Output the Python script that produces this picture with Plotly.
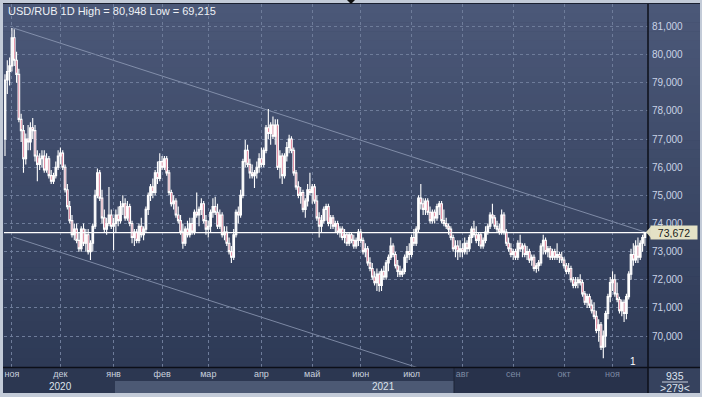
import pandas as pd
import plotly.graph_objects as go

# ---------------- data ----------------
dates = [d.strftime("%Y-%m-%d") for d in pd.bdate_range("2020-10-28", "2021-11-19")]

open_ = [
    77.0, 79.1, 79.4, 79.6, 80.6, 79.8, 79.3, 77.7, 77.3, 76.3,
    77.0, 76.9, 77.4, 77.3, 76.4, 76.1, 76.3, 76.4, 75.9, 76.3,
    75.7, 75.5, 75.7, 76.0, 76.4, 76.5, 76.0, 75.2, 74.6, 74.1,
    73.6, 73.8, 73.4, 73.1, 73.8, 73.3, 73.6, 73.0, 73.3, 73.9,
    75.0, 75.8, 74.9, 74.2, 73.8, 74.0, 74.3, 73.9, 74.0, 74.3,
    74.1, 74.6, 74.7, 74.2, 74.6, 74.0, 73.5, 73.7, 73.4, 73.9,
    73.6, 73.8, 74.5, 75.0, 75.3, 75.1, 75.8, 75.6, 76.2, 76.0,
    76.3, 75.8, 75.1, 74.7, 74.8, 74.3, 74.1, 73.7, 73.3, 73.8,
    73.6, 74.0, 73.7, 74.4, 74.3, 74.5, 74.7, 74.1, 73.8, 73.9,
    74.4, 74.6, 74.4, 73.9, 74.3, 73.6, 73.7, 73.3, 73.0, 72.8,
    73.6, 74.4, 74.3, 75.0, 76.2, 76.6, 76.1, 75.8, 75.7, 75.8,
    76.0, 76.3, 76.1, 76.6, 77.4, 77.2, 77.5, 77.1, 77.5, 76.0,
    76.4, 75.7, 76.4, 76.7, 77.0, 76.6, 75.8, 75.3, 75.0, 75.1,
    74.5, 74.8, 75.2, 75.1, 75.3, 74.8, 74.2, 73.9, 74.1, 74.5,
    74.6, 74.0, 74.2, 73.9, 74.0, 73.7, 73.8, 73.5, 73.6, 73.3,
    73.6, 73.4, 73.2, 73.4, 73.7, 73.4, 73.0, 73.1, 72.6, 72.4,
    72.1, 71.9, 72.2, 71.8, 72.3, 72.1, 72.6, 72.8, 73.2, 72.9,
    72.5, 72.3, 72.2, 72.3, 72.8, 73.0, 72.9, 73.5, 73.3, 73.8,
    74.9, 74.7, 74.5, 74.8, 74.4, 74.1, 74.4, 74.2, 74.6, 74.7,
    74.1, 74.0, 73.9, 73.8, 73.5, 73.1, 73.2, 73.0, 73.1, 73.0,
    73.3, 73.1, 73.5, 73.8, 73.6, 73.4, 73.6, 73.2, 73.4, 73.7,
    73.9, 74.3, 74.2, 73.9, 73.8, 73.7, 74.3, 73.7, 73.3, 73.1,
    72.9, 73.0, 72.8, 73.3, 73.1, 73.2, 72.9, 73.0, 72.7, 72.8,
    72.4, 72.5, 72.6, 73.2, 73.4, 73.0, 73.1, 72.8, 73.0, 72.8,
    72.9, 72.8, 72.7, 72.5, 72.3, 72.4, 72.0, 71.8, 71.9, 72.0,
    71.9, 71.5, 71.2, 71.4, 71.1, 70.9, 70.7, 70.2, 70.4, 69.6,
    70.0, 70.8, 71.4, 71.9, 72.0, 71.5, 71.3, 70.9, 71.2, 70.8,
    71.4, 72.2, 72.9, 72.7, 73.2, 72.8, 73.3, 73.5,
]

high = [
    79.3, 79.8, 79.9, 80.948, 80.9, 80.1, 79.5, 77.9, 77.5, 77.2,
    77.5, 77.6, 77.75, 77.5, 76.6, 76.5, 76.6, 76.6, 76.5, 76.4,
    75.9, 75.8, 76.2, 76.6, 76.7, 76.6, 76.1, 75.4, 74.8, 74.3,
    74.0, 74.0, 73.7, 73.9, 74.0, 73.8, 73.8, 73.4, 74.0, 75.2,
    75.95, 75.9, 75.2, 74.5, 74.2, 75.3, 74.5, 74.2, 74.5, 74.6,
    74.8, 75.0, 74.9, 74.8, 74.7, 74.1, 73.8, 73.8, 74.0, 74.2,
    73.9, 74.6, 75.1, 75.4, 75.6, 75.9, 76.2, 76.5, 76.4, 76.4,
    76.4, 75.9, 75.2, 75.0, 74.9, 74.6, 74.3, 74.0, 73.9, 74.1,
    74.2, 74.2, 74.5, 75.1, 74.6, 74.9, 74.8, 74.3, 74.1, 74.5,
    74.9, 74.95, 74.7, 74.5, 74.4, 73.9, 73.9, 73.5, 73.2, 73.8,
    74.5, 74.6, 75.2, 76.3, 76.97, 76.8, 76.3, 76.1, 75.9, 76.2,
    76.5, 76.7, 76.7, 77.5, 78.07, 77.6, 77.8, 77.7, 77.7, 76.6,
    76.5, 76.5, 76.9, 77.15, 77.1, 76.7, 75.9, 75.5, 75.3, 75.2,
    74.9, 75.4, 75.8, 75.4, 75.4, 75.0, 74.4, 74.3, 74.6, 74.7,
    74.7, 74.3, 74.3, 74.1, 74.1, 73.9, 73.9, 73.8, 73.7, 73.7,
    73.7, 73.6, 73.5, 73.8, 73.8, 73.5, 73.3, 73.2, 72.8, 72.6,
    72.3, 72.4, 72.3, 72.4, 72.5, 72.7, 72.9, 73.5, 73.3, 73.0,
    72.7, 72.5, 72.4, 72.9, 73.2, 73.3, 73.6, 73.8, 73.9, 75.0,
    75.4, 74.9, 74.9, 74.9, 74.6, 74.5, 74.5, 74.7, 74.8, 74.8,
    74.5, 74.2, 74.0, 73.9, 73.6, 73.4, 73.4, 73.4, 73.3, 73.5,
    73.4, 73.6, 73.9, 74.1, 73.9, 73.7, 73.7, 73.5, 73.9, 74.0,
    74.4, 74.7, 74.3, 74.1, 74.0, 74.5, 74.4, 73.8, 73.5, 73.3,
    73.1, 73.1, 73.4, 73.6, 73.3, 73.3, 73.2, 73.1, 72.9, 72.9,
    72.6, 72.7, 73.3, 73.6, 73.5, 73.2, 73.2, 73.1, 73.1, 73.3,
    73.0, 73.0, 72.8, 72.6, 72.6, 72.5, 72.1, 72.1, 72.1, 72.2,
    72.0, 71.6, 71.5, 71.5, 71.3, 71.2, 70.9, 70.6, 70.5, 70.2,
    70.9, 71.5, 72.1, 72.3, 72.2, 71.9, 71.4, 71.3, 71.3, 71.5,
    72.3, 73.1, 73.3, 73.4, 73.5, 73.4, 73.6, 73.7,
]

low = [
    76.4, 78.6, 78.9, 79.4, 79.6, 79.0, 77.6, 76.9, 75.8, 76.1,
    76.6, 76.6, 77.0, 76.2, 75.5, 75.9, 76.0, 75.8, 75.8, 75.6,
    75.4, 75.4, 75.6, 75.9, 76.1, 75.9, 75.1, 74.5, 74.0, 73.5,
    73.4, 73.3, 73.0, 73.0, 73.2, 73.0, 72.9, 72.7, 73.0, 73.8,
    74.9, 74.8, 74.0, 73.7, 73.6, 73.9, 73.8, 73.05, 73.7, 73.9,
    74.0, 74.3, 74.1, 74.1, 73.9, 73.3, 73.2, 73.3, 73.3, 73.5,
    73.4, 73.7, 74.3, 74.8, 74.9, 75.0, 75.4, 75.5, 75.9, 75.9,
    75.7, 75.0, 74.6, 74.5, 74.2, 74.0, 73.6, 73.1, 73.2, 73.5,
    73.5, 73.6, 73.6, 74.2, 73.9, 74.3, 74.0, 73.6, 73.5, 73.7,
    74.2, 74.3, 73.8, 73.8, 73.5, 73.4, 73.2, 72.9, 72.6, 72.7,
    73.5, 74.0, 74.2, 74.9, 76.0, 76.0, 75.6, 75.6, 75.26, 75.6,
    75.8, 76.0, 76.0, 76.5, 77.0, 76.8, 77.0, 76.8, 75.9, 75.6,
    75.4, 75.6, 76.2, 76.5, 76.5, 75.7, 75.2, 74.9, 74.7, 74.4,
    74.2, 74.6, 75.0, 74.7, 74.7, 74.1, 73.5, 73.7, 74.0, 74.1,
    73.9, 73.8, 73.8, 73.7, 73.6, 73.5, 73.4, 73.3, 73.2, 73.2,
    73.3, 73.1, 73.1, 73.2, 73.3, 72.9, 72.8, 72.5, 72.3, 72.0,
    71.8, 71.6, 71.57, 71.6, 72.0, 72.0, 72.3, 72.7, 72.8, 72.4,
    72.1, 72.1, 72.1, 72.2, 72.6, 72.7, 72.8, 73.2, 73.2, 73.7,
    74.5, 74.3, 74.3, 74.3, 74.0, 74.0, 74.0, 74.1, 74.3, 74.0,
    73.9, 73.8, 73.6, 73.4, 73.0, 72.8, 72.7, 72.8, 72.8, 72.9,
    72.9, 73.0, 73.3, 73.5, 73.3, 73.2, 73.1, 73.1, 73.3, 73.6,
    73.8, 74.0, 73.8, 73.7, 73.6, 73.6, 73.6, 73.2, 73.0, 72.8,
    72.7, 72.7, 72.7, 73.0, 72.8, 72.8, 72.7, 72.6, 72.5, 72.3,
    72.25, 72.3, 72.5, 72.9, 72.9, 72.8, 72.7, 72.7, 72.7, 72.7,
    72.6, 72.6, 72.4, 72.2, 72.2, 71.9, 71.7, 71.7, 71.7, 71.8,
    71.4, 71.1, 71.0, 71.0, 70.8, 70.6, 70.1, 69.8, 69.5, 69.215,
    69.6, 70.6, 71.2, 71.6, 71.4, 71.2, 70.8, 70.7, 70.5, 70.6,
    71.3, 72.0, 72.5, 72.6, 72.6, 72.7, 73.0, 73.2,
]

close = [
    79.1, 79.4, 79.6, 80.6, 79.8, 79.3, 77.7, 77.3, 76.3, 77.0,
    76.9, 77.4, 77.3, 76.4, 76.1, 76.3, 76.4, 75.9, 76.3, 75.7,
    75.5, 75.7, 76.0, 76.4, 76.5, 76.0, 75.2, 74.6, 74.1, 73.6,
    73.8, 73.4, 73.1, 73.8, 73.3, 73.6, 73.0, 73.3, 73.9, 75.0,
    75.8, 74.9, 74.2, 73.8, 74.0, 74.3, 73.9, 74.0, 74.3, 74.1,
    74.6, 74.7, 74.2, 74.6, 74.0, 73.5, 73.7, 73.4, 73.9, 73.6,
    73.8, 74.5, 75.0, 75.3, 75.1, 75.8, 75.6, 76.2, 76.0, 76.3,
    75.8, 75.1, 74.7, 74.8, 74.3, 74.1, 73.7, 73.3, 73.8, 73.6,
    74.0, 73.7, 74.4, 74.3, 74.5, 74.7, 74.1, 73.8, 73.9, 74.4,
    74.6, 74.4, 73.9, 74.3, 73.6, 73.7, 73.3, 73.0, 72.8, 73.6,
    74.4, 74.3, 75.0, 76.2, 76.6, 76.1, 75.8, 75.7, 75.8, 76.0,
    76.3, 76.1, 76.6, 77.4, 77.2, 77.5, 77.1, 77.5, 76.0, 76.4,
    75.7, 76.4, 76.7, 77.0, 76.6, 75.8, 75.3, 75.0, 75.1, 74.5,
    74.8, 75.2, 75.1, 75.3, 74.8, 74.2, 73.9, 74.1, 74.5, 74.6,
    74.0, 74.2, 73.9, 74.0, 73.7, 73.8, 73.5, 73.6, 73.3, 73.6,
    73.4, 73.2, 73.4, 73.7, 73.4, 73.0, 73.1, 72.6, 72.4, 72.1,
    71.9, 72.2, 71.8, 72.3, 72.1, 72.6, 72.8, 73.2, 72.9, 72.5,
    72.3, 72.2, 72.3, 72.8, 73.0, 72.9, 73.5, 73.3, 73.8, 74.9,
    74.7, 74.5, 74.8, 74.4, 74.1, 74.4, 74.2, 74.6, 74.7, 74.1,
    74.0, 73.9, 73.8, 73.5, 73.1, 73.2, 73.0, 73.1, 73.0, 73.3,
    73.1, 73.5, 73.8, 73.6, 73.4, 73.6, 73.2, 73.4, 73.7, 73.9,
    74.3, 74.2, 73.9, 73.8, 73.7, 74.3, 73.7, 73.3, 73.1, 72.9,
    73.0, 72.8, 73.3, 73.1, 73.2, 72.9, 73.0, 72.7, 72.8, 72.4,
    72.5, 72.6, 73.2, 73.4, 73.0, 73.1, 72.8, 73.0, 72.8, 72.9,
    72.8, 72.7, 72.5, 72.3, 72.4, 72.0, 71.8, 71.9, 72.0, 71.9,
    71.5, 71.2, 71.4, 71.1, 70.9, 70.7, 70.2, 70.4, 69.6, 70.0,
    70.8, 71.4, 71.9, 72.0, 71.5, 71.3, 70.9, 71.2, 70.8, 71.4,
    72.2, 72.9, 72.7, 73.2, 72.8, 73.3, 73.5, 73.672,
]

n = min(len(dates), len(open_), len(high), len(low), len(close))
dates, open_, high, low, close = dates[:n], open_[:n], high[:n], low[:n], close[:n]

month_names = ["ноя", "дек", "янв", "фев", "мар", "апр", "май", "июн", "июл", "авг", "сен", "окт", "ноя"]
y_ticks = [70, 71, 72, 73, 74, 75, 76, 77, 78, 79, 80, 81]
y_labels = ["70,000", "71,000", "72,000", "73,000", "74,000", "75,000",
            "76,000", "77,000", "78,000", "79,000", "80,000", "81,000"]
last_price = 73.672
last_label = "73,672"
title_text = "USD/RUB 1D High = 80,948 Low = 69,215"
year_labels = ["2020", "2021"]

# trend channel (category index, value)
channel_idx = [3.5, 278.4]
channel_upper = [80.95, 73.66]
channel_lower = [73.52, 66.23]

# ---------------- geometry helpers ----------------
W, H = 702, 397
ML, MR, MT, MB = 4, 54, 4, 30
PW, PH = W - ML - MR, H - MT - MB


def PX(p):
    return (p - ML) / PW


def PY(p):
    return (H - MB - p) / PH


# first trading day of each month, starting with November 2020
tickvals = []
seen = set()
for d in dates:
    key = d[:7]
    if key < "2020-11":
        continue
    if key not in seen:
        seen.add(key)
        tickvals.append(d)
tickvals = tickvals[:len(month_names)]
ticktext = []
for i, m in enumerate(month_names[:len(tickvals)]):
    if i >= 9:
        ticktext.append("<span style='color:#7d8aa3'>%s</span>" % m)
    else:
        ticktext.append(m)

fig = go.Figure()

fig.add_trace(go.Candlestick(
    x=dates, open=open_, high=high, low=low, close=close,
    increasing=dict(line=dict(color="#ffffff", width=1.1), fillcolor="#ffffff"),
    decreasing=dict(line=dict(color="#ffffff", width=1.1), fillcolor="#cc3158"),
    whiskerwidth=0, showlegend=False, hoverinfo="skip",
))

shapes = []
# gradient background (plot + right axis panel)
top_c = (0x4b, 0x58, 0x78)
bot_c = (0x2e, 0x3a, 0x56)
nb = 40
for k in range(nb):
    t = k / (nb - 1)
    c = tuple(int(round(top_c[j] + (bot_c[j] - top_c[j]) * t)) for j in range(3))
    y0 = MT + PH * k / nb
    y1 = MT + PH * (k + 1) / nb + 0.6
    shapes.append(dict(type="rect", xref="paper", yref="paper",
                       x0=PX(0), x1=PX(W), y0=PY(y1), y1=PY(y0),
                       fillcolor="rgb(%d,%d,%d)" % c, line=dict(width=0), layer="below"))
# bottom axis panel
shapes.append(dict(type="rect", xref="paper", yref="paper", x0=PX(0), x1=PX(648), y0=PY(393), y1=PY(367),
                   fillcolor="#2c3751", line=dict(width=0), layer="below"))
shapes.append(dict(type="rect", xref="paper", yref="paper", x0=PX(454), x1=PX(648), y0=PY(393), y1=PY(368),
                   fillcolor="#28324b", line=dict(width=0), layer="below"))
shapes.append(dict(type="rect", xref="paper", yref="paper", x0=PX(115), x1=PX(454), y0=PY(393), y1=PY(381),
                   fillcolor="#4c5974", line=dict(width=0), layer="below"))
shapes.append(dict(type="line", xref="paper", yref="paper", x0=PX(454), x1=PX(454), y0=PY(393), y1=PY(368),
                   line=dict(color="#1c2436", width=1), layer="below"))
# bottom-right box
shapes.append(dict(type="rect", xref="paper", yref="paper", x0=PX(648), x1=PX(W), y0=PY(393), y1=PY(367),
                   fillcolor="#36425e", line=dict(width=0), layer="below"))
shapes.append(dict(type="line", xref="paper", yref="paper", x0=PX(662), x1=PX(688), y0=PY(382), y1=PY(382),
                   line=dict(color="#c8d0de", width=1), layer="above"))
# frame lines
shapes.append(dict(type="line", xref="paper", yref="paper", x0=PX(0), x1=PX(W), y0=PY(367.5), y1=PY(367.5),
                   line=dict(color="#0c0f18", width=1.5), layer="above"))
shapes.append(dict(type="line", xref="paper", yref="paper", x0=PX(648), x1=PX(648), y0=PY(393), y1=PY(3),
                   line=dict(color="#0c0f18", width=1.5), layer="above"))
# outer light border
for (x0, x1, y0, y1) in [(0, 3, 0, H), (0, W, 0, 3), (0, W, 393, H), (700, W, 0, H)]:
    shapes.append(dict(type="rect", xref="paper", yref="paper", x0=PX(x0), x1=PX(x1), y0=PY(y1), y1=PY(y0),
                       fillcolor="#c3cbd8", line=dict(width=0), layer="above"))
shapes.append(dict(type="line", xref="paper", yref="paper", x0=PX(3), x1=PX(700), y0=PY(3.5), y1=PY(3.5),
                   line=dict(color="#1a2030", width=1), layer="above"))
shapes.append(dict(type="path", xref="paper", yref="paper",
                   path="M %f %f L %f %f L %f %f Z" % (PX(347), PY(0), PX(355), PY(0), PX(351), PY(4)),
                   fillcolor="#101010", line=dict(width=0), layer="above"))
# channel lines
shapes.append(dict(type="line", xref="x", yref="y", x0=channel_idx[0], x1=channel_idx[1],
                   y0=channel_upper[0], y1=channel_upper[1], line=dict(color="rgba(150,162,188,0.75)", width=1),
                   layer="below"))
shapes.append(dict(type="line", xref="x", yref="y", x0=channel_idx[0], x1=channel_idx[1],
                   y0=channel_lower[0], y1=channel_lower[1], line=dict(color="rgba(150,162,188,0.75)", width=1),
                   layer="below"))
# last price line
shapes.append(dict(type="line", xref="paper", yref="y", x0=0, x1=1, y0=last_price, y1=last_price,
                   line=dict(color="#ffffff", width=1.2), layer="above"))
# price tag arrow
shapes.append(dict(type="path", xref="paper", yref="paper",
                   path="M %f %f L %f %f L %f %f Z" % (PX(646), PY(232), PX(651), PY(226.5), PX(651), PY(238)),
                   fillcolor="#dcdac0", line=dict(width=0), layer="above"))

annotations = [
    dict(text=title_text, xref="paper", yref="paper", x=PX(6), y=PY(10.5), xanchor="left", yanchor="middle",
         showarrow=False, font=dict(family="Liberation Sans", size=11, color="#eef1f6")),
    dict(text=last_label, xref="paper", yref="y", x=PX(650), y=last_price, xanchor="left", yanchor="middle",
         showarrow=False, bgcolor="#e4e2c6", borderpad=1, width=44, height=11,
         font=dict(family="Liberation Sans", size=10.5, color="#1a1a1a")),
    dict(text=year_labels[0], xref="x", yref="paper", x=24, y=PY(386.5), xanchor="center", yanchor="middle",
         showarrow=False, font=dict(family="Liberation Sans", size=10, color="#dce2ec")),
    dict(text=year_labels[1], xref="x", yref="paper", x=164, y=PY(386.5), xanchor="center", yanchor="middle",
         showarrow=False, font=dict(family="Liberation Sans", size=10, color="#dce2ec")),
    dict(text="935", xref="paper", yref="paper", x=PX(675), y=PY(375.5), xanchor="center", yanchor="middle",
         showarrow=False, font=dict(family="Liberation Sans", size=10.5, color="#dde3ee")),
    dict(text="&gt;279&lt;", xref="paper", yref="paper", x=PX(675), y=PY(388), xanchor="center", yanchor="middle",
         showarrow=False, font=dict(family="Liberation Sans", size=10.5, color="#dde3ee")),
    dict(text="1", xref="paper", yref="paper", x=PX(633), y=PY(361), xanchor="center", yanchor="middle",
         showarrow=False, font=dict(family="Liberation Sans", size=10, color="#ffffff")),
]

fig.update_layout(
    width=W, height=H, autosize=False,
    margin=dict(l=ML, r=MR, t=MT, b=MB, pad=0),
    paper_bgcolor="#2c3751", plot_bgcolor="rgba(0,0,0,0)",
    showlegend=False, boxgap=0.0,
    shapes=shapes, annotations=annotations,
    xaxis=dict(type="category", range=[-0.43, 278.35], tickmode="array", tickvals=tickvals, ticktext=ticktext,
               showgrid=True, gridcolor="#6e7c9a", griddash="dot", gridwidth=1, automargin=False, tickangle=0,
               showline=False, zeroline=False, ticks="", rangeslider=dict(visible=False),
               tickfont=dict(family="Liberation Sans", size=9, color="#c9d1de"), fixedrange=True),
    yaxis=dict(side="right", range=[68.90, 81.80], tickmode="array", tickvals=y_ticks, ticktext=y_labels,
               showgrid=True, gridcolor="#6e7c9a", griddash="dot", gridwidth=1, automargin=False,
               showline=False, zeroline=False, ticks="", ticklabelstandoff=3,
               tickfont=dict(family="Liberation Sans", size=10, color="#c9d3e6"), fixedrange=True),
)

fig.write_html("out.html", config={"displayModeBar": False},
               post_script="document.body.style.margin='0';document.body.style.overflow='hidden';")
